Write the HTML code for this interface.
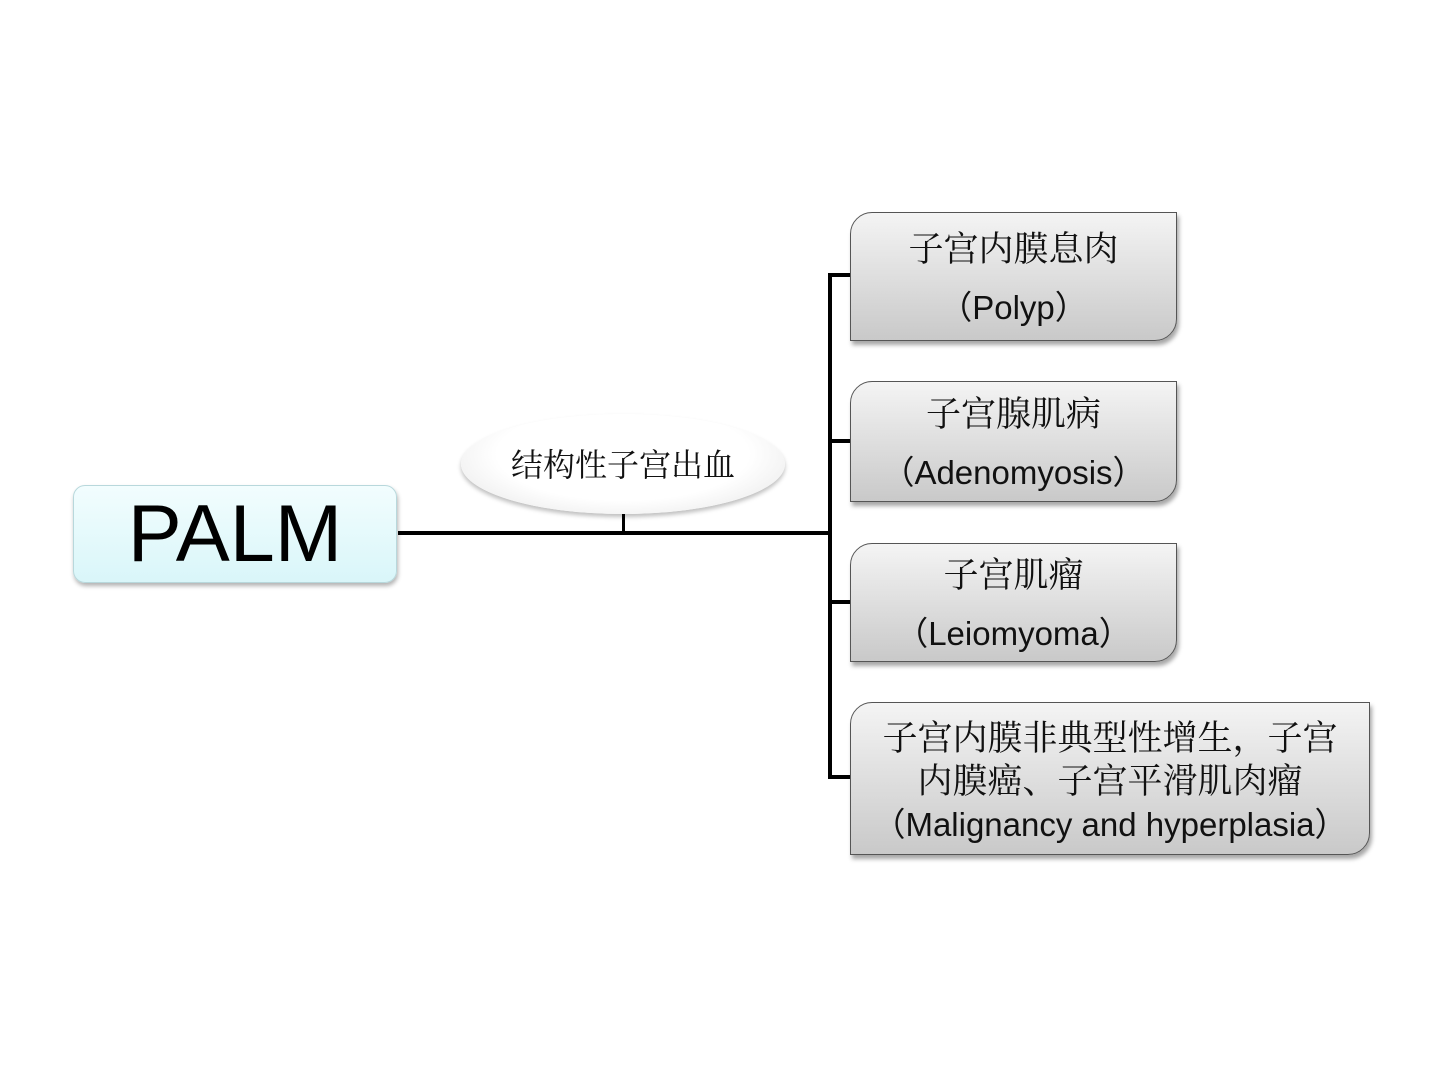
<!DOCTYPE html>
<html><head><meta charset="utf-8"><style>
html,body{margin:0;padding:0;background:#fff;}
#c{position:relative;width:1440px;height:1080px;overflow:hidden;}
.ln{position:absolute;background:#000;}
.box{position:absolute;box-sizing:border-box;border:1.5px solid #555;border-radius:22px 0 22px 0;
background:linear-gradient(#f4f4f4,#c9c9c9);box-shadow:2px 4px 4px rgba(0,0,0,0.35);text-align:center;color:#111;}
.cn{font-family:"Noto Serif CJK SC","Liberation Serif",serif;font-size:35px;}
.en{font-family:"Liberation Sans",sans-serif;font-size:33px;}
.p{font-family:"Noto Sans CJK SC",sans-serif;display:inline-block;width:33px;}
.l{text-align:right;}
.r{text-align:left;}
.t{position:absolute;left:0;right:0;white-space:nowrap;}
</style></head><body><div id="c">
<div class="ln" style="left:398px;top:531px;width:433px;height:4px"></div>
<div class="ln" style="left:622px;top:512px;width:3px;height:21px"></div>
<div class="ln" style="left:828px;top:273px;width:4px;height:506px"></div>
<div class="ln" style="left:828px;top:273px;width:23px;height:4px"></div>
<div class="ln" style="left:828px;top:439px;width:23px;height:4px"></div>
<div class="ln" style="left:828px;top:600px;width:23px;height:4px"></div>
<div class="ln" style="left:828px;top:775px;width:23px;height:4px"></div>

<div style="position:absolute;left:73px;top:485px;width:324px;height:98px;box-sizing:border-box;border:1px solid #b8d8dc;border-radius:12px;background:linear-gradient(#f2fdfe,#d9f6f9);box-shadow:1px 3px 4px rgba(0,0,0,0.3);font-family:'Liberation Sans',sans-serif;font-size:81px;line-height:96px;text-align:center;color:#000">PALM</div>

<div style="position:absolute;left:461px;top:414px;width:324px;height:100px;border-radius:50%;background:radial-gradient(ellipse at 50% 40%,#fff 55%,#e2e2e2 100%);box-shadow:0 3px 4px rgba(0,0,0,0.25);"></div>
<div class="cn" style="position:absolute;left:461px;top:440px;width:324px;text-align:center;font-size:32px;line-height:46px;color:#111">结构性子宫出血</div>

<div class="box" style="left:850px;top:212px;width:327px;height:129px">
<div class="t cn" style="top:12px;line-height:44px">子宫内膜息肉</div>
<div class="t en" style="top:70px;line-height:44px"><span class="p l">（</span>Polyp<span class="p r">）</span></div></div>

<div class="box" style="left:850px;top:381px;width:327px;height:121px">
<div class="t cn" style="top:8px;line-height:44px">子宫腺肌病</div>
<div class="t en" style="top:66px;line-height:44px"><span class="p l">（</span>Adenomyosis<span class="p r">）</span></div></div>

<div class="box" style="left:850px;top:543px;width:327px;height:119px">
<div class="t cn" style="top:7px;line-height:44px">子宫肌瘤</div>
<div class="t en" style="top:65px;line-height:44px"><span class="p l">（</span>Leiomyoma<span class="p r">）</span></div></div>

<div class="box" style="left:850px;top:702px;width:520px;height:153px">
<div class="t cn" style="top:11px;line-height:44px">子宫内膜非典型性增生，子宫</div>
<div class="t cn" style="top:54px;line-height:44px">内膜癌、子宫平滑肌肉瘤</div>
<div class="t en" style="top:97px;line-height:44px"><span class="p l">（</span>Malignancy and hyperplasia<span class="p r">）</span></div></div>
</div></body></html>
